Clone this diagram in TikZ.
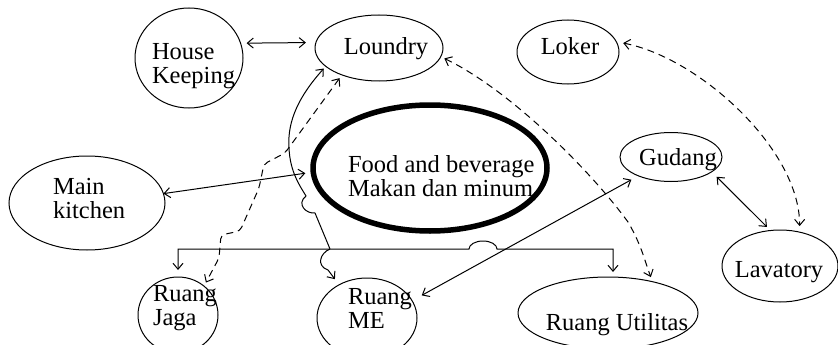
\documentclass[tikz,border=0pt]{standalone}
\usepackage{fontspec}
\setmainfont{Liberation Serif}
\usetikzlibrary{arrows.meta,shapes.geometric}
\begin{document}
\begin{tikzpicture}[x=1pt,y=-1pt,
  room/.style={ellipse,draw,line width=1pt,inner sep=0pt,outer sep=0pt},
  lbl/.style={inner sep=0pt,outer sep=0pt,font=\fontsize{24.5}{24}\selectfont},
  con/.style={line width=1pt,>={Straight Barb[length=6pt,width=10pt]}},
  dsh/.style={con,dash pattern=on 7pt off 5pt}]
\useasboundingbox (0,0) rectangle (838,345);
% rooms
\node[room,minimum width=108pt,minimum height=100pt] (hk) at (189,58) {};
\node[room,minimum width=128pt,minimum height=66pt] (lo) at (379,48) {};
\node[room,minimum width=102pt,minimum height=64pt] (lk) at (568,52) {};
\node[room,line width=5.5pt,minimum width=234pt,minimum height=126pt] (fo) at (430,168) {};
\node[room,minimum width=156pt,minimum height=94pt] (mk) at (87,203) {};
\node[room,minimum width=102pt,minimum height=49pt] (gu) at (671,157) {};
\node[room,minimum width=116pt,minimum height=72pt] (lav) at (780,266) {};
\node[room,minimum width=180pt,minimum height=72pt] (ru) at (608,313) {};
\node[room,minimum width=80pt,minimum height=76pt] (rj) at (178,315) {};
\node[room,minimum width=100pt,minimum height=80pt] (rme) at (367,318) {};
% labels
\node[lbl,align=left,anchor=west] (hkT) at (152,66) {House\\Keeping};
\node[lbl,anchor=base] (loT) at (386,55) {Loundry};
\node[lbl,anchor=base] (lkT) at (570,55) {Loker};
\node[lbl,align=left,anchor=west] (foT) at (348,176) {Food and beverage\\Makan dan minum};
\node[lbl,align=left,anchor=west] (mkT) at (53,199) {Main\\kitchen};
\node[lbl,anchor=base] (guT) at (678,165) {Gudang};
\node[lbl,anchor=base] (lavT) at (779,277) {Lavatory};
\node[lbl,anchor=base] (ruT) at (617,330) {Ruang Utilitas};
\node[lbl,align=left,anchor=west] (rjT) at (153,308) {Ruang\\Jaga};
\node[lbl,align=left,anchor=west] (rmeT) at (348,308) {Ruang\\ME};
% coordinates of the bus line
\coordinate (j1) at (330,249);
\coordinate (bl) at (178,249);
\coordinate (bL) at (469,249);
\coordinate (br) at (613,249);
% connectors
\draw[con,<->,shorten <=6pt,shorten >=10pt] (hk.16) -- (lo.175);
\draw[con,<->,shorten >=8pt] (mk.7) -- (fo.182);
\draw[con,<-,shorten <=3pt] (lo.199) .. controls (300,95) and (287,120) .. (289,148)
  .. controls (290,172) and (300,186) .. (306,196)
  .. controls (296,204) and (306,214) .. (315,213) -- (j1);
\draw[con,->,shorten >=7pt] (j1) .. controls (320,253) and (316,266) .. (328,270) -- (rme.130);
\draw[con,<->,shorten <=7pt,shorten >=5pt] (bl |- rj.north) -- (bl) -- (bL)
  arc[start angle=180,end angle=0,x radius=14pt,y radius=8pt] -- (br) -- (br |- ru.north);
\draw[con,<->,shorten <=8pt,shorten >=11pt] (gu.210) -- (rme.21);
\draw[con,<->,shorten <=7pt,shorten >=5pt] (gu.340) -- (lav.105);
\draw[dsh,<->,shorten <=7pt,shorten >=6pt] (lk.12) .. controls (700,58) and (800,150) .. (lav.60);
\draw[dsh,<->,shorten <=4pt,shorten >=5pt] (lo.352) .. controls (510,90) and (590,170) .. (628,222)
  .. controls (642,246) and (645,262) .. (ru.35);
\draw[dsh,<->,rounded corners=4pt,shorten <=4pt,shorten >=4pt] (lo.216) -- (285,153) -- (264,164)
  -- (259,188) -- (240,231) -- (221,235) -- (219,258) -- (rj.48);
\end{tikzpicture}
\end{document}
